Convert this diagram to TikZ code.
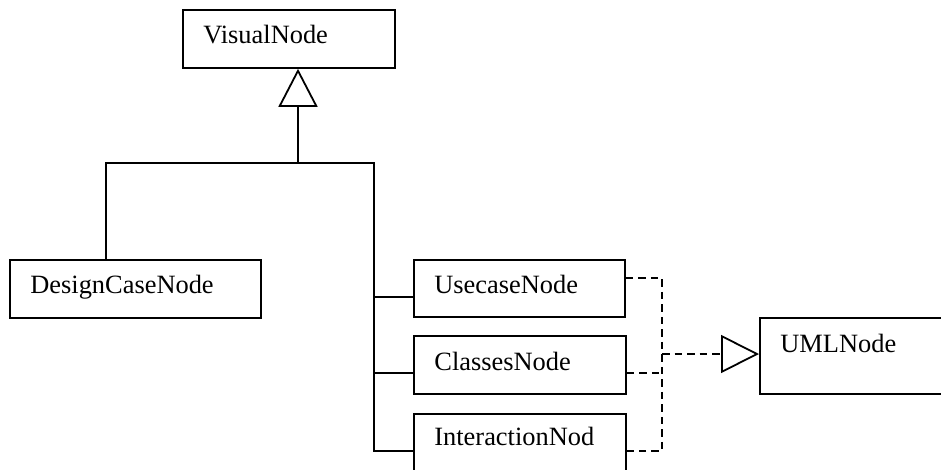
\documentclass[tikz,border=0pt]{standalone}
\usepackage{fontspec}
\setmainfont{Liberation Serif}
\usetikzlibrary{arrows.meta}
\begin{document}
\begin{tikzpicture}[x=1pt,y=-1pt,line width=1.8pt,
  classbox/.style={draw,rectangle,anchor=north west,inner xsep=20.5pt,inner ysep=0pt,
    text height=34pt,text depth=24pt,align=left,font=\fontsize{26.4}{30}\selectfont},
  inherit/.style={-{Triangle[open,length=38pt,width=39pt]}},
  realize/.style={dash pattern=on 7.5pt off 5pt}]
\useasboundingbox (0,0) rectangle (941,469);
\clip (0,0) rectangle (941,469);

% classes
\node[classbox,text width=171pt] (visual) at (182,9) {VisualNode};
\node[classbox,text width=210pt] (design) at (9,259) {DesignCaseNode};
\node[classbox,text width=170pt,text depth=23pt] (usecase) at (413,259) {UsecaseNode};
\node[classbox,text width=171pt,text height=35pt,text depth=23pt] (classes) at (413,335) {ClassesNode};
\node[classbox,text width=171pt,text height=32pt,text depth=60pt] (interaction) at (413,413) {InteractionNod};
\node[classbox,text width=260pt,text height=35pt,text depth=41pt] (uml) at (759,317) {UMLNode};

% inheritance tree below VisualNode
\coordinate (hub) at (298,163);
\coordinate (bus) at (374,163);
\draw[inherit] (hub) -- (hub |- visual.south);
\coordinate (u-in) at ([yshift=-38pt]usecase.north west);
\coordinate (c-in) at ([yshift=-38pt]classes.north west);
\coordinate (i-in) at ([yshift=-38pt]interaction.north west);
\draw ([xshift=97pt]design.north west) |- (bus) |- (i-in);
\draw (u-in) -- (u-in -| bus);
\draw (c-in) -- (c-in -| bus);

% realization towards UMLNode
\coordinate (dashbus) at (662,0);
\coordinate (u-out) at ([yshift=-19pt]usecase.north east);
\coordinate (c-out) at ([yshift=-38pt]classes.north east);
\coordinate (i-out) at ([yshift=-38pt]interaction.north east);
\coordinate (uml-in) at ([yshift=-37pt]uml.north west);
\draw[realize] (u-out) -| (i-out -| dashbus) -- (i-out);
\draw[realize] (c-out) -- (c-out -| dashbus);
\draw[realize,-{Triangle[open,length=38pt,width=38pt]}] (dashbus |- uml-in) -- (uml-in);
\end{tikzpicture}
\end{document}
